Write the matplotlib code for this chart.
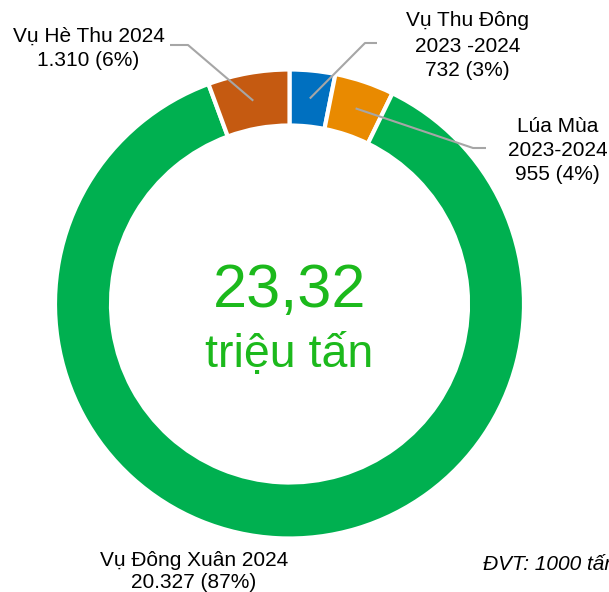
import numpy as np
import matplotlib
matplotlib.use("Agg")
import matplotlib.pyplot as plt

# ---- data ----
categories = ["Vụ Thu Đông", "Lúa Mùa", "Vụ Đông Xuân 2024", "Vụ Hè Thu 2024"]
values = [732, 955, 20327, 1310]
label_texts = [
    ["Vụ Thu Đông", "2023 -2024", "732 (3%)"],
    ["Lúa Mùa", "2023-2024", "955 (4%)"],
    ["Vụ Đông Xuân 2024", "20.327 (87%)"],
    ["Vụ Hè Thu 2024", "1.310 (6%)"],
]
colors = ["#0070C0", "#E98A00", "#00B050", "#C55A11"]
total_text = "23,32"
unit_text = "triệu tấn"
note_text = "ĐVT: 1000 tấn"

W, H = 609, 592
fig = plt.figure(figsize=(W / 100, H / 100), dpi=100)
ax = fig.add_axes([0, 0, 1, 1])

def Y(y):
    return H - y

cx, cy = 289.5, 304
R = 234.5
width = 56
FONT = "Liberation Sans"

wedges, _ = ax.pie(values, colors=colors, startangle=90, counterclock=False,
                   radius=R, center=(cx, Y(cy)),
                   wedgeprops=dict(width=width, edgecolor="white", linewidth=3))
ax.set_xlim(0, W)
ax.set_ylim(0, H)
ax.set_aspect("equal")
ax.axis("off")

# wedge mid-angles for leader anchors
fr = np.array(values) / np.sum(values)
starts = 90 - 360 * np.concatenate([[0], np.cumsum(fr)[:-1]])
mids = starts - 360 * fr / 2
rmid = R - width / 2

def anchor(i):
    a = np.deg2rad(mids[i])
    return cx + rmid * np.cos(a), Y(cy) + rmid * np.sin(a)

# label layout: (center x, first baseline y, step)
layout = {
    0: (467.5, 26.5, 25),
    1: (557.5, 131.5, 24.5),
    2: (194, 566.5, 21),
    3: (88.5, 41.5, 25),
}
fs = 15
for i, (x, yb, step) in layout.items():
    for k, line in enumerate(label_texts[i]):
        ax.text(x, Y(yb + k * step), line, ha="center", va="baseline",
                fontsize=fs, family=FONT, color="black")

gray = "#A6A6A6"
# leader lines: anchor -> elbow -> end
leaders = {
    0: [(365, 43), (377, 43)],
    1: [(473, 148), (486, 148)],
    3: [(188, 45), (170, 45)],
}
for i, pts in leaders.items():
    ax_, ay_ = anchor(i)
    xs = [ax_] + [p[0] for p in pts]
    ys = [ay_] + [Y(p[1]) for p in pts]
    ax.plot(xs, ys, color=gray, lw=1.5, solid_capstyle="butt")

green = "#1CB91C"
ax.text(cx, Y(307), total_text, ha="center", va="baseline", fontsize=44,
        family=FONT, color=green)
ax.text(cx, Y(367), unit_text, ha="center", va="baseline", fontsize=33.5,
        family=FONT, color=green)

ax.text(483, Y(570), note_text, ha="left", va="baseline", fontsize=15,
        family=FONT, style="italic", color="black")

fig.savefig("out.png", dpi=100)
